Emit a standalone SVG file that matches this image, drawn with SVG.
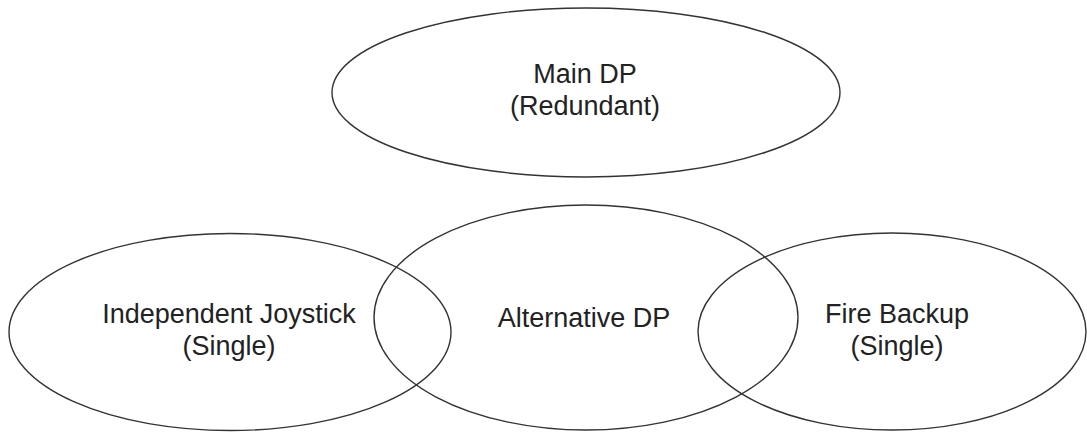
<svg xmlns="http://www.w3.org/2000/svg" width="1087" height="432" viewBox="0 0 1087 432">
<style>
.n{fill:none;stroke:#333;stroke-width:1.4}
.t{font-family:"Liberation Sans",Arial,sans-serif;font-size:27px;fill:#222;text-anchor:middle}
</style>
<rect width="1087" height="432" fill="#fff"/>
<g id="main-dp">
<ellipse class="n" cx="586" cy="92.5" rx="254" ry="84.5"/>
<text class="t" x="585" y="83">Main DP</text>
<text class="t" x="585" y="115">(Redundant)</text>
</g>
<g id="joystick">
<ellipse class="n" cx="230" cy="332" rx="221" ry="98.5"/>
<text class="t" x="229" y="323">Independent Joystick</text>
<text class="t" x="229" y="355">(Single)</text>
</g>
<g id="alt-dp">
<ellipse class="n" cx="586" cy="317.5" rx="212" ry="112.5"/>
<text class="t" x="584" y="327">Alternative DP</text>
</g>
<g id="fire-backup">
<ellipse class="n" cx="892" cy="331.5" rx="194" ry="98.5"/>
<text class="t" x="897" y="323">Fire Backup</text>
<text class="t" x="897" y="355">(Single)</text>
</g>
<g id="connectors"></g>
</svg>
